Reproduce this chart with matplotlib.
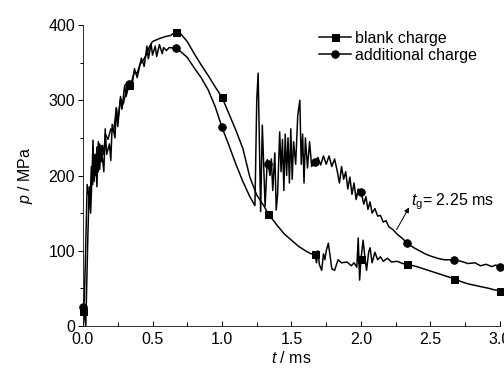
import matplotlib
matplotlib.use("Agg")
import matplotlib.pyplot as plt
import numpy as np
from matplotlib.ticker import MultipleLocator

plt.rcParams['font.family'] = ['Liberation Sans', 'DejaVu Sans']
plt.rcParams['mathtext.fontset'] = 'custom'
plt.rcParams['mathtext.rm'] = 'Liberation Sans'
plt.rcParams['mathtext.it'] = 'Liberation Sans:italic'

# blank charge (squares)
t_blank = [0.0, 0.01, 0.02, 0.03, 0.04, 0.05, 0.06, 0.07, 0.08, 0.09, 0.10, 0.11, 0.12,
           0.13, 0.14, 0.15, 0.16, 0.18, 0.20, 0.22, 0.24, 0.25, 0.27, 0.29, 0.31, 0.333,
           0.35, 0.37, 0.39, 0.41, 0.43, 0.46, 0.48, 0.50, 0.55, 0.60, 0.63, 0.667, 0.70,
           0.75, 0.80, 0.85, 0.90, 0.95, 1.0, 1.05, 1.10, 1.15, 1.20, 1.25, 1.30, 1.333,
           1.40, 1.45, 1.50, 1.55, 1.60, 1.64, 1.667, 1.68, 1.69, 1.70, 1.717, 1.73, 1.74,
           1.75, 1.765, 1.78, 1.79, 1.81, 1.835, 1.86, 1.90, 1.93, 1.95, 1.97, 1.98, 1.99,
           2.0, 2.015, 2.03, 2.04, 2.055, 2.065, 2.08, 2.10, 2.12, 2.14, 2.16, 2.19, 2.22,
           2.26, 2.30, 2.333, 2.40, 2.45, 2.50, 2.55, 2.60, 2.667, 2.72, 2.77, 2.82, 2.87,
           2.92, 2.96, 3.0]
p_blank = [20, 35, 110, 188, 175, 160, 212, 188, 228, 200, 238, 205, 242,
           218, 240, 228, 255, 248, 262, 258, 290, 272, 302, 295, 312, 320,
           325, 338, 336, 348, 352, 362, 372, 378, 382, 385, 386, 391, 389,
           378, 362, 347, 333, 318, 304, 282, 260, 236, 198, 174, 160, 149,
           133, 122, 114, 106, 100, 96, 96, 84, 100, 82, 74, 96, 88,
           100, 110, 90, 76, 74, 88, 84, 85, 80, 84, 78, 117, 61,
           89, 114, 88, 74, 98, 104, 84, 98, 88, 92, 86, 90, 85,
           86, 83, 82, 79, 76, 73, 70, 67, 63, 59, 56, 54, 52,
           50, 48, 47]

# additional charge (circles)
t_add = [0.0, 0.01, 0.02, 0.035, 0.045, 0.055, 0.065, 0.072, 0.08, 0.09, 0.10, 0.11,
         0.12, 0.13, 0.15, 0.16, 0.17, 0.19, 0.20, 0.21, 0.23, 0.24, 0.25, 0.27, 0.28,
         0.30, 0.31, 0.333, 0.35, 0.37, 0.39, 0.42, 0.44, 0.46, 0.47, 0.49, 0.50, 0.52,
         0.53, 0.55, 0.57, 0.58, 0.60, 0.62, 0.667, 0.70, 0.75, 0.80, 0.85, 0.90, 0.95,
         1.0, 1.05, 1.10, 1.15, 1.20, 1.237, 1.25, 1.26, 1.278, 1.29, 1.31, 1.326, 1.333,
         1.345, 1.355, 1.365, 1.38, 1.39, 1.40, 1.415, 1.425, 1.435, 1.445, 1.455, 1.465,
         1.475, 1.485, 1.495, 1.505, 1.515, 1.53, 1.545, 1.56, 1.57, 1.58, 1.59, 1.60,
         1.615, 1.63, 1.645, 1.667, 1.69, 1.71, 1.73, 1.75, 1.77, 1.79, 1.81, 1.83, 1.845,
         1.86, 1.875, 1.89, 1.905, 1.92, 1.935, 1.95, 1.965, 1.98, 2.0, 2.02, 2.035, 2.05,
         2.065, 2.08, 2.10, 2.12, 2.14, 2.16, 2.18, 2.20, 2.23, 2.26, 2.30, 2.333, 2.38,
         2.42, 2.46, 2.50, 2.55, 2.60, 2.667, 2.72, 2.77, 2.82, 2.86, 2.90, 2.94, 2.97, 3.0]
p_add = [25, 12, 0, 120, 185, 150, 200, 247, 192, 228, 185, 245,
         208, 240, 205, 262, 228, 242, 220, 268, 250, 290, 265, 305, 288,
         320, 305, 322, 315, 342, 330, 356, 345, 372, 355, 375, 360, 372,
         358, 374, 362, 370, 366, 370, 369, 365, 357, 343, 330, 314, 292,
         264, 240, 215, 192, 172, 160, 300, 336, 152, 267, 159, 221, 215,
         200, 222, 180, 230, 154, 175, 258, 205, 248, 180, 255, 200, 250,
         190, 262, 195, 245, 215, 280, 300, 215, 255, 190, 250,
         210, 245, 212, 218, 224, 214, 226, 215, 226, 212, 222, 205, 190,
         212, 195, 205, 182, 198, 175, 190, 168, 182, 178, 162, 172, 155,
         165, 150, 156, 146, 147, 138, 140, 132, 128, 122, 116, 110, 104,
         100, 96, 93, 90, 88, 88, 86, 83, 84, 80, 82, 79, 81, 78]

marker_times = [0.0, 0.333, 0.667, 1.0, 1.333, 1.667, 2.0, 2.333, 2.667, 3.0]
label_blank = 'blank charge'
label_add = 'additional charge'

fs = 16

fig = plt.figure(figsize=(7, 374 / 72), dpi=72)
ax = fig.add_axes([83 / 504, 1 - 326 / 374, 417 / 504, 301 / 374])

mk_b = [i for i, t in enumerate(t_blank) if t in marker_times]
mk_a = [i for i, t in enumerate(t_add) if t in marker_times]

ax.plot(t_blank, p_blank, color='black', lw=1.5, marker='s', markersize=7,
        markevery=mk_b, label=label_blank, clip_on=False)
ax.plot(t_add, p_add, color='black', lw=1.5, marker='o', markersize=7.5,
        markevery=mk_a, label=label_add, clip_on=False)

ax.set_xlim(0, 3.0)
ax.set_ylim(0, 400)
ax.spines['top'].set_visible(False)
ax.spines['right'].set_visible(False)
ax.set_xticks([0, 0.5, 1.0, 1.5, 2.0, 2.5, 3.0])
ax.set_xticklabels(['0.0', '0.5', '1.0', '1.5', '2.0', '2.5', '3.0'])
ax.xaxis.set_minor_locator(MultipleLocator(0.25))
ax.yaxis.set_major_locator(MultipleLocator(100))
ax.yaxis.set_minor_locator(MultipleLocator(50))
ax.tick_params(axis='x', which='major', direction='in', length=5, width=1, labelsize=fs, pad=6)
ax.tick_params(axis='x', which='minor', direction='in', length=4, width=1)
ax.tick_params(axis='y', which='major', direction='out', length=5, width=1, labelsize=fs, pad=3)
ax.tick_params(axis='y', which='minor', direction='out', length=3, width=1)

ax.set_xlabel(r'$t$ / ms', fontsize=fs, labelpad=3)
ax.set_ylabel(r'$p$ / MPa', fontsize=fs, labelpad=13)

ax.legend(loc='upper left', bbox_to_anchor=(0.565, 0.98), frameon=False, fontsize=fs,
          handlelength=2.0, handletextpad=0.3, labelspacing=0.1, borderaxespad=0,
          borderpad=0)

ax.annotate(r'$t_{\rm g}$= 2.25 ms', xy=(2.256, 128), xytext=(2.36, 165),
            fontsize=fs, va='center', ha='left',
            arrowprops=dict(arrowstyle='<|-', color='black', lw=1, shrinkA=0, shrinkB=0,
                            mutation_scale=10, relpos=(0, 0.4)))

fig.savefig('out.png', dpi=72)
